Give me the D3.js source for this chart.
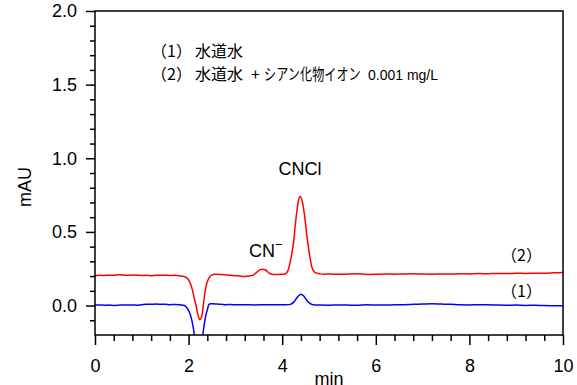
<!DOCTYPE html>
<html>
<head>
<meta charset="utf-8">
<script src="https://cdn.jsdelivr.net/npm/d3@7"></script>
<style>
  body { margin: 0; background: #fff; }
  svg { display: block; }
  .lat { font-family: "Liberation Sans", Arial, sans-serif; }
  .cjk { font-family: "Noto Sans CJK JP", sans-serif; }
</style>
</head>
<body>
<svg id="chart" width="577" height="385"></svg>
<script>
// Retention time (min) and absorbance (mAU) for tap water + cyanide ion 0.001 mg/L
const timeSpiked = [
  0.0, 0.1, 0.2, 0.3, 0.4, 0.5, 0.6, 0.7, 0.8, 0.9, 1.0, 1.1, 1.2, 1.3, 1.4, 1.5, 1.6, 1.7,
  1.82, 1.90, 1.97, 2.01, 2.05, 2.09, 2.12, 2.16, 2.19, 2.22, 2.24, 2.265, 2.29, 2.31, 2.34,
  2.37, 2.40, 2.43, 2.46, 2.50, 2.55, 2.6, 2.7, 2.8, 2.9, 3.0, 3.1, 3.2, 3.3, 3.38, 3.45,
  3.52, 3.58, 3.64, 3.70, 3.76, 3.85, 3.95, 4.06, 4.13, 4.18, 4.24, 4.30, 4.35, 4.38, 4.43,
  4.48, 4.52, 4.58, 4.63, 4.68, 4.74, 4.81, 4.9, 5.0, 5.2, 5.4, 5.6, 5.8, 6.0, 6.2, 6.4, 6.6,
  6.8, 7.0, 7.2, 7.4, 7.6, 7.8, 8.0, 8.2, 8.4, 8.6, 8.8, 9.0, 9.2, 9.4, 9.6, 9.8, 10.0
];
const absSpiked = [
  0.203, 0.205, 0.204, 0.206, 0.205, 0.209, 0.207, 0.205, 0.207, 0.206, 0.204, 0.205, 0.203,
  0.206, 0.205, 0.206, 0.204, 0.205,
  0.201, 0.197, 0.186, 0.168, 0.140, 0.095, 0.050, 0.000, -0.050, -0.085, -0.097, -0.088,
  -0.060, -0.010, 0.070, 0.125, 0.163, 0.185, 0.197, 0.207, 0.212, 0.213, 0.211, 0.208,
  0.205, 0.203, 0.200, 0.198, 0.201, 0.207, 0.225, 0.242, 0.247, 0.243, 0.226, 0.214, 0.210,
  0.212, 0.214, 0.243, 0.310, 0.424, 0.605, 0.718, 0.740, 0.706, 0.605, 0.492, 0.356, 0.265,
  0.231, 0.220, 0.215, 0.213, 0.214, 0.212, 0.214, 0.216, 0.211, 0.212, 0.214, 0.213, 0.215,
  0.216, 0.214, 0.213, 0.215, 0.214, 0.216, 0.215, 0.217, 0.216, 0.218, 0.217, 0.219, 0.218,
  0.220, 0.219, 0.222, 0.225
];

// Retention time (min) and absorbance (mAU) for plain tap water
const timeTap = [
  0.0, 0.1, 0.2, 0.3, 0.4, 0.5, 0.6, 0.7, 0.8, 0.9, 1.0, 1.1, 1.2, 1.3, 1.4, 1.5, 1.6, 1.7,
  1.82, 1.90, 1.97, 2.01, 2.05, 2.10, 2.14, 2.18, 2.21, 2.25, 2.29, 2.32, 2.35, 2.38, 2.40,
  2.43, 2.47, 2.52, 2.6, 2.7, 2.8, 2.9, 3.0, 3.2, 3.4, 3.6, 3.8, 4.0, 4.1, 4.17, 4.25, 4.32,
  4.40, 4.46, 4.52, 4.58, 4.63, 4.7, 4.8, 5.0, 5.2, 5.4, 5.6, 5.8, 6.0, 6.2, 6.4, 6.6, 6.8,
  7.0, 7.2, 7.4, 7.6, 7.8, 8.0, 8.2, 8.4, 8.6, 8.8, 9.0, 9.2, 9.4, 9.6, 9.8, 10.0
];
const absTap = [
  0.003, 0.004, 0.002, 0.003, 0.001, 0.002, 0.004, 0.003, 0.004, 0.002, 0.006, 0.009, 0.008,
  0.010, 0.008, 0.009, 0.006, 0.007,
  0.005, 0.002, -0.018, -0.040, -0.075, -0.150, -0.230, -0.300, -0.320, -0.300, -0.240,
  -0.160, -0.097, -0.050, -0.030, 0.005, 0.012, 0.012, 0.010, 0.008, 0.006, 0.007, 0.005,
  0.006, 0.004, 0.005, 0.006, 0.005, 0.006, 0.008, 0.025, 0.055, 0.077, 0.065, 0.038, 0.018,
  0.008, 0.004, 0.003, 0.002, 0.004, 0.003, 0.002, 0.005, 0.004, 0.003, 0.005, 0.006, 0.008,
  0.010, 0.012, 0.010, 0.008, 0.005, 0.004, 0.006, 0.005, 0.003, 0.002, 0.003, 0.001, 0.002,
  0.000, -0.001, -0.002
];

// Axis ticks
const xMajorTicks = [0, 2, 4, 6, 8, 10];
const xMinorTicks = [0.4, 0.8, 1.2, 1.6, 2.4, 2.8, 3.2, 3.6, 4.4, 4.8, 5.2, 5.6, 6.4, 6.8, 7.2, 7.6, 8.4, 8.8, 9.2, 9.6];
const yMajorTicks = [0, 0.5, 1.0, 1.5, 2.0];
const yMinorTicks = [-0.1, 0.1, 0.2, 0.3, 0.4, 0.6, 0.7, 0.8, 0.9, 1.1, 1.2, 1.3, 1.4, 1.6, 1.7, 1.8, 1.9];

const svg = d3.select("#chart");
const margin = { left: 95, top: 11, right: 14, bottom: 50 };
const W = 577 - margin.left - margin.right;
const H = 385 - margin.top - margin.bottom;

const x = d3.scaleLinear().domain([0, 10]).range([0, W]);
const y = d3.scaleLinear().domain([-0.2, 2.0]).range([H, 0]);

const g = svg.append("g").attr("transform", `translate(${margin.left},${margin.top})`);

g.append("defs").append("clipPath").attr("id", "plotClip")
  .append("rect").attr("x", 0).attr("y", 0).attr("width", W).attr("height", H);

// Traces
const line = d3.line()
  .x(d => x(d[0]))
  .y(d => y(d[1]))
  .curve(d3.curveMonotoneX);

const traces = [
  { t: timeTap, v: absTap, color: "#0000ff" },
  { t: timeSpiked, v: absSpiked, color: "#ff0000" }
];
traces.forEach(s => {
  g.append("path")
    .datum(d3.zip(s.t, s.v))
    .attr("clip-path", "url(#plotClip)")
    .attr("fill", "none")
    .attr("stroke", s.color)
    .attr("stroke-width", 1.5)
    .attr("stroke-linejoin", "round")
    .attr("d", line);
});

// Frame
g.append("rect")
  .attr("x", 0).attr("y", 0).attr("width", W).attr("height", H)
  .attr("fill", "none").attr("stroke", "#000").attr("stroke-width", 1.5);

// Bottom axis: minor then major ticks
const xMinor = g.append("g").attr("transform", `translate(0,${H})`)
  .call(d3.axisBottom(x).tickValues(xMinorTicks).tickSize(6).tickFormat(""));
const xMajor = g.append("g").attr("transform", `translate(0,${H})`)
  .call(d3.axisBottom(x).tickValues(xMajorTicks).tickSize(10).tickPadding(14).tickFormat(d3.format("d")));

// Left axis
const yMinor = g.append("g")
  .call(d3.axisLeft(y).tickValues(yMinorTicks).tickSize(5).tickFormat(""));
const yMajor = g.append("g")
  .call(d3.axisLeft(y).tickValues(yMajorTicks).tickSize(9).tickPadding(9).tickFormat(d3.format(".1f")));

[xMinor, xMajor, yMinor, yMajor].forEach(a => {
  a.select(".domain").remove();
  a.selectAll(".tick line").attr("stroke", "#000").attr("stroke-width", 1.5);
  a.selectAll(".tick text")
    .attr("class", "lat")
    .attr("font-family", "Liberation Sans, Arial, sans-serif")
    .attr("font-size", 18)
    .attr("fill", "#000");
});

// Axis titles
svg.append("text").attr("class", "lat")
  .attr("x", margin.left + W / 2).attr("y", 385)
  .attr("text-anchor", "middle").attr("font-size", 18)
  .text("min");

svg.append("text").attr("class", "lat")
  .attr("transform", "translate(31,187) rotate(-90)")
  .attr("text-anchor", "middle").attr("font-size", 18)
  .text("mAU");

// Peak labels
svg.append("text").attr("class", "lat")
  .attr("x", 300).attr("y", 175).attr("text-anchor", "middle").attr("font-size", 18)
  .text("CNCl");

const cn = svg.append("text").attr("class", "lat")
  .attr("x", 249).attr("y", 257).attr("font-size", 18);
cn.append("tspan").text("CN");
cn.append("tspan").attr("font-size", 13).attr("dy", -8).text("−");

// Trace labels
svg.append("text").attr("class", "cjk")
  .attr("x", 501).attr("y", 261).attr("font-size", 16).text("（2）");
svg.append("text").attr("class", "cjk")
  .attr("x", 501).attr("y", 297).attr("font-size", 16).text("（1）");

// Legend
const legend = svg.append("g").attr("class", "cjk").attr("font-size", 16);
legend.append("text").attr("x", 151).attr("y", 57).text("（1）");
legend.append("text").attr("x", 195).attr("y", 57).text("水道水");
legend.append("text").attr("x", 151).attr("y", 80).text("（2）");
legend.append("text").attr("x", 195).attr("y", 80).text("水道水");
legend.append("text").attr("x", 251).attr("y", 80).text("+");
// narrow katakana run, condensed horizontally
legend.append("text")
  .attr("transform", "translate(264,80) scale(0.76,1)")
  .text("シアン化物イオン");
legend.append("text").attr("x", 368).attr("y", 80)
  .attr("class", "lat").attr("font-size", 14).text("0.001 mg/L");
</script>
</body>
</html>
